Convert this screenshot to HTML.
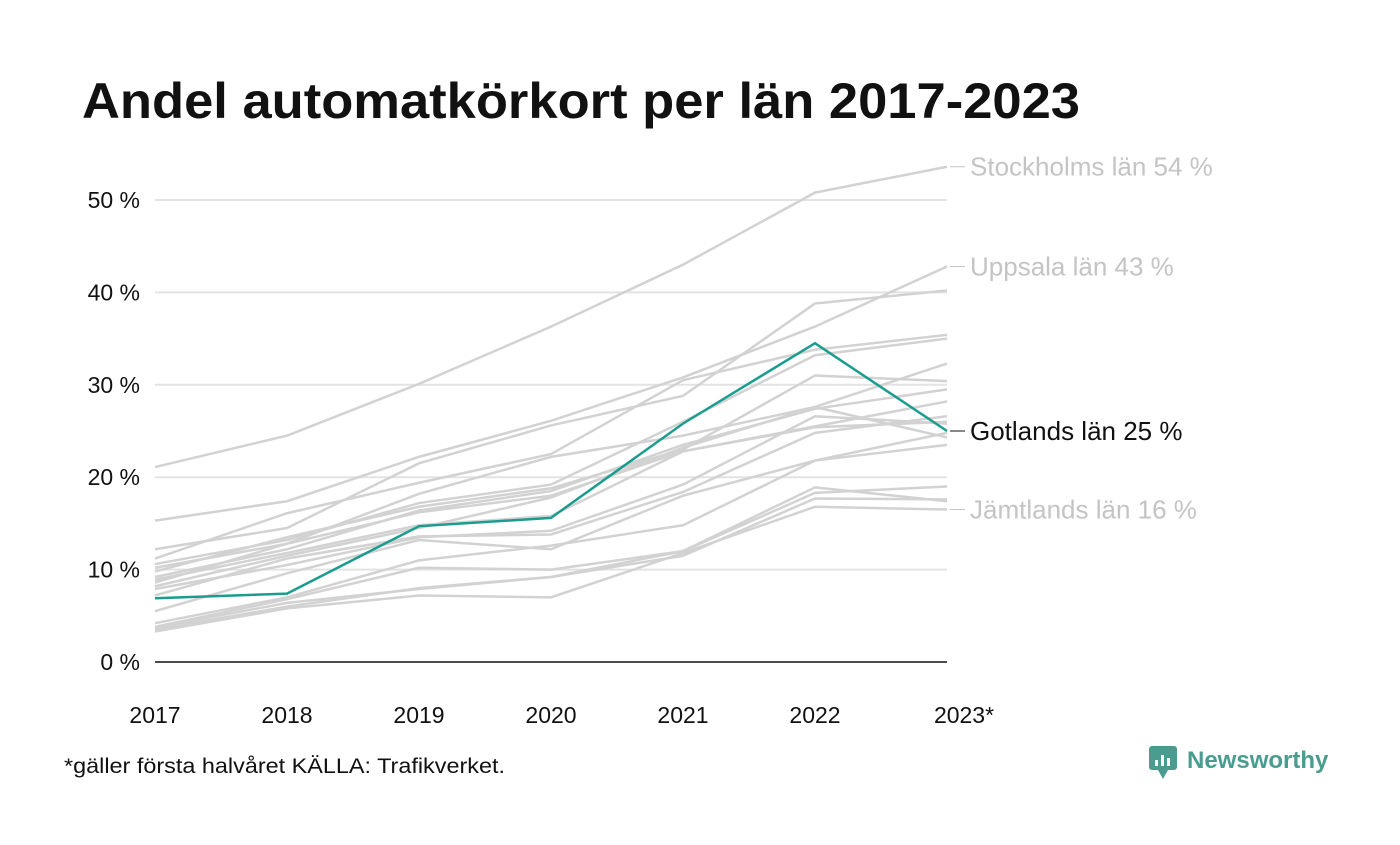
<!DOCTYPE html>
<html><head><meta charset="utf-8"><style>
body{margin:0;background:#fff;width:1400px;height:840px;overflow:hidden;font-family:"Liberation Sans",sans-serif}
</style></head><body>
<svg id="chart" width="1400" height="840" xmlns="http://www.w3.org/2000/svg">
<text x="82" y="118" font-size="50" font-weight="bold" fill="#111" textLength="998" lengthAdjust="spacingAndGlyphs">Andel automatkörkort per län 2017-2023</text>
<g id="grid"></g><g id="lines"></g><g id="labels"></g>
<text x="64" y="773" font-size="21" fill="#111" textLength="441" lengthAdjust="spacingAndGlyphs">*gäller första halvåret KÄLLA: Trafikverket.</text>
<g>
<rect x="1149" y="746" width="28" height="24" rx="3" fill="#4a9c8f"/>
<path d="M1158 770 L1163 779 L1168 770 Z" fill="#4a9c8f"/>
<rect x="1155" y="760" width="3" height="6" fill="#fff"/><rect x="1161" y="755" width="3" height="11" fill="#fff"/><rect x="1167" y="758" width="3" height="8" fill="#fff"/>
<text x="1187" y="768" font-size="24" font-weight="bold" fill="#4a9c8f">Newsworthy</text>
</g>
</svg>
<script>
const years=["2017","2018","2019","2020","2021","2022","2023*"];
const yTicks=[0,10,20,30,40,50];
const gray=[
[21.1,24.5,30.1,36.3,43,50.8,53.6],
[15.3,17.4,22.2,26.1,30.8,36.3,42.8],
[12.2,14.5,21.5,25.6,28.8,38.8,40.2],
[11.2,16.1,19.4,22.5,30.5,33.8,35.4],
[10.6,13.2,17.2,19.2,26,33.2,35],
[10.2,12.8,18.2,22.2,24.5,27.6,32.3],
[9.8,13.5,16.8,18.8,23,31,30.4],
[9.2,12.2,16.4,18.5,23.5,27.4,29.5],
[8.6,12.8,16.2,18,22.8,25.5,28.2],
[8.2,11.5,14.5,17.8,23.2,27.6,24.3],
[8.9,11.8,14.8,15.8,22.8,25.4,26],
[7.9,10.5,13.5,14.2,19.2,26.6,25.8],
[7.2,11.2,13.6,13.8,18.4,24.8,26.6],
[5.5,9.6,13.2,12.2,18,21.8,23.5],
[4.2,7,11,12.6,14.8,21.8,24.8],
[3.8,6.8,10.2,10,12,18.9,17.4],
[3.5,6,8,9.2,12,18.3,19],
[3.7,6.4,7.9,9.2,11.5,17.7,17.6],
[3.3,5.8,7.2,7,11.8,16.8,16.5]];
const gotland=[6.9,7.4,14.7,15.6,25.8,34.5,25];
const labelNames=["Stockholms län 54 %","Uppsala län 43 %","Gotlands län 25 %","Jämtlands län 16 %"];
const labelValues=[53.6,42.8,25,16.5];
const NS="http://www.w3.org/2000/svg";
const X=i=>155+i*132, Y=v=>662-v*9.24;
function mk(t,a,p){const e=document.createElementNS(NS,t);for(const k in a)e.setAttribute(k,a[k]);p.appendChild(e);return e;}
const grid=document.getElementById('grid'),lines=document.getElementById('lines'),labels=document.getElementById('labels');
yTicks.forEach(t=>{
 const l=mk('line',{x1:155,x2:947,y1:Y(t),y2:Y(t),stroke:t?'#e3e3e3':'#111','stroke-width':t?2:1.5},grid);
 
 
 const tx=mk('text',{x:140,y:Y(t)+8,'text-anchor':'end','font-size':23,fill:'#111'},grid);tx.textContent=t+' %';
 
 
});
years.forEach((y,i)=>{
 const tx=mk('text',{x:X(i),y:723,'text-anchor':'middle','font-size':23,fill:'#111'},grid);tx.textContent=y;
 if(i==6)tx.setAttribute('x',X(i)+17);
 
 
});
const pts=a=>a.map((v,i)=>X(i)+','+Y(v)).join(' ');
gray.forEach(s=>{
 const p=mk('polyline',{points:pts(s),fill:'none',stroke:'#d2d2d2','stroke-width':2.5},lines);
 
 
});
const g=mk('polyline',{points:pts(gotland),fill:'none',stroke:'#1a9d8f','stroke-width':2.5},lines);


labelNames.forEach((n,i)=>{
 const c=i==2?'#111':'#c4c4c4',y=Y(labelValues[i]);
 mk('line',{x1:950,x2:965,y1:y,y2:y,stroke:c,'stroke-width':1},labels);
 const tx=mk('text',{x:970,y:y+9,'font-size':26,fill:c},labels);tx.textContent=n;
 
 
});
</script>
</body></html>
